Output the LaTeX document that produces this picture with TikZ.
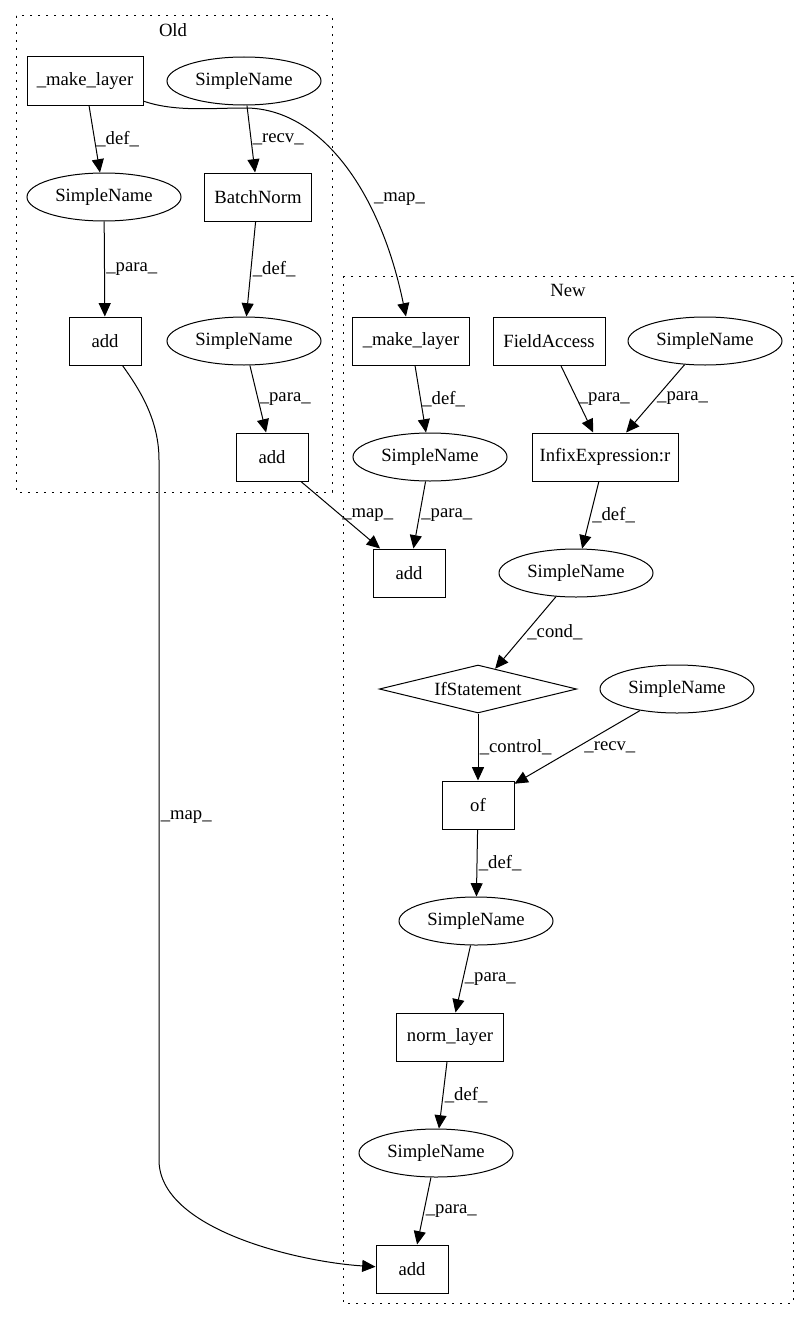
\documentclass[tikz,border=0pt]{standalone}
\usepackage{fontspec}
\setmainfont{Liberation Serif}
\usetikzlibrary{shapes.geometric,arrows.meta}

\begin{document}
\begin{tikzpicture}[x=0.75pt,y=-0.75pt,line width=0.75pt,font=\fontsize{14}{16}\selectfont,
    box/.style={draw,rectangle,minimum height=36pt,inner sep=2pt},
    sname/.style={draw,ellipse,minimum width=115.5pt,minimum height=36pt,inner sep=1pt},
    cond/.style={draw,diamond,aspect=4,minimum width=148pt,minimum height=36pt,inner sep=0pt},
    cluster/.style={dash pattern=on 1.2pt off 4.8pt},
    edge/.style={-{Triangle[length=10pt,width=9pt]}},
    lbl/.style={anchor=west,inner sep=1pt}]
  \useasboundingbox (0,0) rectangle (809,1320);
  % clusters
  \draw[cluster] (16,16) rectangle (332,492);
  \node (old) at (173,30) {Old};
  \draw[cluster] (343,276) rectangle (793,1303);
  \node (new) at (568,290) {New};
  % old
  \node[box,minimum width=87pt] (mkOld) at (85,81) {\_make\_layer};
  \node[sname] (snOld0) at (244,81) {SimpleName};
  \node[sname] (snOld1) at (104,197) {SimpleName};
  \node[box,minimum width=80pt] (bnOld) at (258,197) {BatchNorm};
  \node[box,minimum width=54pt] (addOld1) at (105,341) {add};
  \node[sname] (snOld2) at (244,341) {SimpleName};
  \node[box,minimum width=54pt] (addOld2) at (272,457) {add};
  % new
  \node[box,minimum width=88pt] (mkNew) at (411,341) {\_make\_layer};
  \node[box,minimum width=84pt] (fa) at (549,341) {FieldAccess};
  \node[sname] (snNew0) at (705,341) {SimpleName};
  \node[sname] (snNew1) at (430,457) {SimpleName};
  \node[box,minimum width=109.5pt] (infix) at (605,457) {InfixExpression:r};
  \node[box,minimum width=54pt] (addNew1) at (409,573) {add};
  \node[sname] (snNew2) at (576,573) {SimpleName};
  \node[cond] (ifst) at (478,689) {IfStatement};
  \node[sname] (snNew3) at (677,689) {SimpleName};
  \node[box,minimum width=54pt] (of) at (478,805) {of};
  \node[sname] (snNew4) at (476,921) {SimpleName};
  \node[box,minimum width=80pt] (norm) at (450,1037) {norm\_layer};
  \node[sname] (snNew5) at (436,1153) {SimpleName};
  \node[box,minimum width=54pt] (addNew2) at (412,1269) {add};
  % edges
  \draw[edge] (mkOld) -- node[lbl]{\_def\_} (snOld1);
  \draw[edge] (snOld0) -- node[lbl]{\_recv\_} (bnOld);
  \draw[edge] (snOld1) -- node[lbl]{\_para\_} (addOld1);
  \draw[edge] (bnOld) -- node[lbl]{\_def\_} (snOld2);
  \draw[edge] (snOld2) -- node[lbl]{\_para\_} (addOld2);
  \draw[edge] (mkOld) .. controls (175,112) and (210,108) .. (245,108)
    .. controls (320,108) and (380,190) .. node[lbl,pos=0.64,xshift=5pt]{\_map\_} (mkNew);
  \draw[edge] (addOld1) .. controls (140,390) and (159,420) .. (159,460)
    -- node[lbl,pos=0.51]{\_map\_} (159,1160) .. controls (159,1230) and (300,1262) .. (addNew2);
  \draw[edge] (addOld2) -- node[lbl]{\_map\_} (addNew1);
  \draw[edge] (mkNew) -- node[lbl]{\_def\_} (snNew1);
  \draw[edge] (snNew1) -- node[lbl]{\_para\_} (addNew1);
  \draw[edge] (fa) -- node[lbl]{\_para\_} (infix);
  \draw[edge] (snNew0) -- node[lbl]{\_para\_} (infix);
  \draw[edge] (infix) -- node[lbl]{\_def\_} (snNew2);
  \draw[edge] (snNew2) -- node[lbl]{\_cond\_} (ifst);
  \draw[edge] (ifst) -- node[lbl]{\_control\_} (of);
  \draw[edge] (snNew3) -- node[lbl,xshift=4pt]{\_recv\_} (of);
  \draw[edge] (of) -- node[lbl]{\_def\_} (snNew4);
  \draw[edge] (snNew4) -- node[lbl]{\_para\_} (norm);
  \draw[edge] (norm) -- node[lbl]{\_def\_} (snNew5);
  \draw[edge] (snNew5) -- node[lbl]{\_para\_} (addNew2);
\end{tikzpicture}
\end{document}
